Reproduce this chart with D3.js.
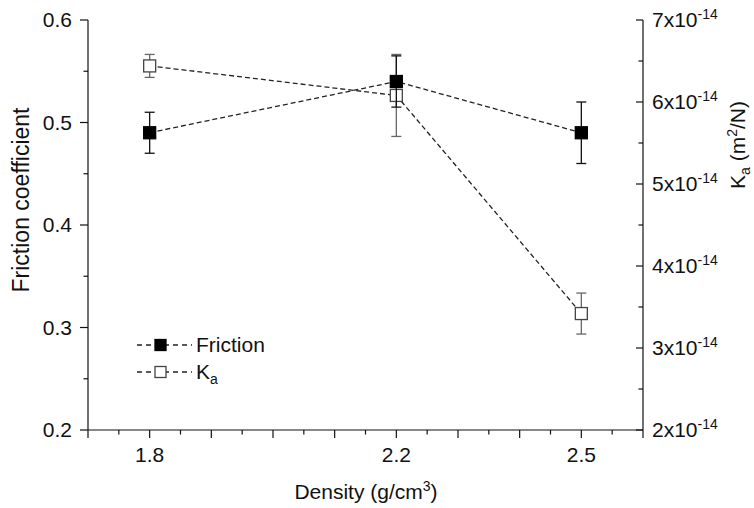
<!DOCTYPE html>
<html>
<head>
<meta charset="utf-8">
<script src="https://cdn.jsdelivr.net/npm/d3@7"></script>
<style>
  html, body { margin: 0; padding: 0; background: #fff; }
  svg { display: block; font-family: "Liberation Sans", Arial, sans-serif; }
</style>
</head>
<body>
<svg id="chart" width="754" height="508"></svg>
<script>
// Density of the samples (g/cm³)
const density = [1.8, 2.2, 2.5];
// Friction coefficient and its error
const friction = [0.49, 0.54, 0.49];
const frictionErr = [0.02, 0.025, 0.03];
// Ka in units of 1e-14 m²/N, and its error
const ka = [6.44, 6.08, 3.42];
const kaErr = [0.14, 0.5, 0.25];
// Axis tick labels
const xTickLabels = [1.8, 2.2, 2.5];
const leftTicks = [0.2, 0.3, 0.4, 0.5, 0.6];
const rightTicks = [2, 3, 4, 5, 6, 7];

const svg = d3.select("#chart");
const plotL = 88, plotR = 643, plotT = 20, plotB = 430;
const fs = 21, fsSmall = 14;

const x = d3.scaleLinear().domain([1.7, 2.6]).range([plotL, plotR]);
const yL = d3.scaleLinear().domain([0.2, 0.6]).range([plotB, plotT]);
const yR = d3.scaleLinear().domain([2, 7]).range([plotB, plotT]);

const axisColor = "#111";

// ---- bottom axis ----
const gx = svg.append("g");
gx.append("line").attr("x1", plotL).attr("x2", plotR).attr("y1", plotB).attr("y2", plotB)
  .attr("stroke", axisColor).attr("stroke-width", 1.2);
const xTicks = d3.range(0, 19).map(i => +(1.7 + i * 0.05).toFixed(2));
xTicks.forEach((t, i) => {
  const major = i % 2 === 0;
  gx.append("line").attr("x1", x(t)).attr("x2", x(t))
    .attr("y1", plotB).attr("y2", plotB + (major ? 8 : 4.5))
    .attr("stroke", axisColor).attr("stroke-width", 1.2);
});
xTickLabels.forEach(t => {
  gx.append("text").attr("x", x(t)).attr("y", 462).attr("text-anchor", "middle")
    .attr("font-size", fs).attr("fill", "#111").text(d3.format(".1f")(t));
});
const xt = gx.append("text").attr("x", 366).attr("y", 499).attr("text-anchor", "middle")
  .attr("font-size", fs).attr("fill", "#111");
xt.append("tspan").text("Density (g/cm");
xt.append("tspan").attr("font-size", fsSmall).attr("dy", -8).text("3");
xt.append("tspan").attr("dy", 8).text(")");

// ---- left axis ----
const gl = svg.append("g");
gl.append("line").attr("x1", plotL).attr("x2", plotL).attr("y1", plotT).attr("y2", plotB)
  .attr("stroke", axisColor).attr("stroke-width", 1.2);
d3.range(0, 9).map(i => 0.2 + i * 0.05).forEach((t, i) => {
  gl.append("line").attr("x1", plotL).attr("x2", plotL - (i % 2 === 0 ? 8 : 4.5))
    .attr("y1", yL(t)).attr("y2", yL(t)).attr("stroke", axisColor).attr("stroke-width", 1.2);
});
leftTicks.forEach(t => {
  gl.append("text").attr("x", 72).attr("y", yL(t)).attr("dy", "0.35em")
    .attr("text-anchor", "end").attr("font-size", fs).attr("fill", "#111")
    .text(d3.format(".1f")(t));
});
gl.append("text").attr("transform", "translate(29,200) rotate(-90)")
  .attr("text-anchor", "middle").attr("font-size", 23).attr("fill", "#111")
  .text("Friction coefficient");

// ---- right axis ----
const gr = svg.append("g");
gr.append("line").attr("x1", plotR).attr("x2", plotR).attr("y1", plotT).attr("y2", plotB)
  .attr("stroke", axisColor).attr("stroke-width", 1.2);
d3.range(0, 11).map(i => 2 + i * 0.5).forEach((t, i) => {
  gr.append("line").attr("x1", plotR).attr("x2", plotR - (i % 2 === 0 ? 7 : 4.5))
    .attr("y1", yR(t)).attr("y2", yR(t)).attr("stroke", axisColor).attr("stroke-width", 1.2);
});
rightTicks.forEach(t => {
  const tx = gr.append("text").attr("x", 652).attr("y", yR(t) + 7)
    .attr("font-size", fs).attr("fill", "#111");
  tx.append("tspan").text(t + "x10");
  tx.append("tspan").attr("font-size", fsSmall).attr("dy", -8).text("-14");
});
const rt = gr.append("text").attr("transform", "translate(745,145) rotate(-90)")
  .attr("text-anchor", "middle").attr("font-size", fs).attr("fill", "#111");
rt.append("tspan").text("K");
rt.append("tspan").attr("font-size", fsSmall).attr("dy", 5).text("a");
rt.append("tspan").attr("dy", -5).text(" (m");
rt.append("tspan").attr("font-size", fsSmall).attr("dy", -8).text("2");
rt.append("tspan").attr("dy", 8).text("/N)");

// ---- series ----
const dash = "5,3";
const capW = 5;

function drawSeries(vals, errs, yScale, opts) {
  const g = svg.append("g");
  const line = d3.line().x((d, i) => x(density[i])).y(d => yScale(d));
  g.append("path").datum(vals).attr("d", line).attr("fill", "none")
    .attr("stroke", "#222").attr("stroke-width", 1.3).attr("stroke-dasharray", dash);
  vals.forEach((v, i) => {
    const cx = x(density[i]);
    const y1 = yScale(v + errs[i]), y2 = yScale(v - errs[i]);
    g.append("line").attr("x1", cx).attr("x2", cx).attr("y1", y1).attr("y2", y2)
      .attr("stroke", opts.err).attr("stroke-width", 1.3);
    [y1, y2].forEach(yy => g.append("line").attr("x1", cx - capW).attr("x2", cx + capW)
      .attr("y1", yy).attr("y2", yy).attr("stroke", opts.err).attr("stroke-width", 1.3));
  });
  return g;
}
function drawMarkers(g, vals, yScale, opts) {
  vals.forEach((v, i) => {
    g.append("rect").attr("x", x(density[i]) - 6).attr("y", yScale(v) - 6)
      .attr("width", 12).attr("height", 12)
      .attr("fill", opts.fill).attr("stroke", opts.stroke).attr("stroke-width", 1.3);
  });
}

const gKa = drawSeries(ka, kaErr, yR, { err: "#666" });
const gFr = drawSeries(friction, frictionErr, yL, { err: "#111" });
drawMarkers(gKa, ka, yR, { fill: "#fff", stroke: "#444" });
drawMarkers(gFr, friction, yL, { fill: "#000", stroke: "#000" });

// ---- legend ----
const legend = [
  { label: "Friction", sub: null, fill: "#000", stroke: "#000", y: 345 },
  { label: "K", sub: "a", fill: "#fff", stroke: "#444", y: 372 }
];
const gLeg = svg.append("g");
legend.forEach(d => {
  gLeg.append("line").attr("x1", 137).attr("x2", 192).attr("y1", d.y).attr("y2", d.y)
    .attr("stroke", "#222").attr("stroke-width", 1.3).attr("stroke-dasharray", "5,4");
  gLeg.append("rect").attr("x", 155).attr("y", d.y - 5.5).attr("width", 11).attr("height", 11)
    .attr("fill", d.fill).attr("stroke", d.stroke).attr("stroke-width", 1.3);
  const t = gLeg.append("text").attr("x", 196).attr("y", d.y + 7)
    .attr("font-size", fs).attr("fill", "#111");
  t.append("tspan").text(d.label);
  if (d.sub) t.append("tspan").attr("font-size", fsSmall).attr("dy", 5).text(d.sub);
});
</script>
</body>
</html>
